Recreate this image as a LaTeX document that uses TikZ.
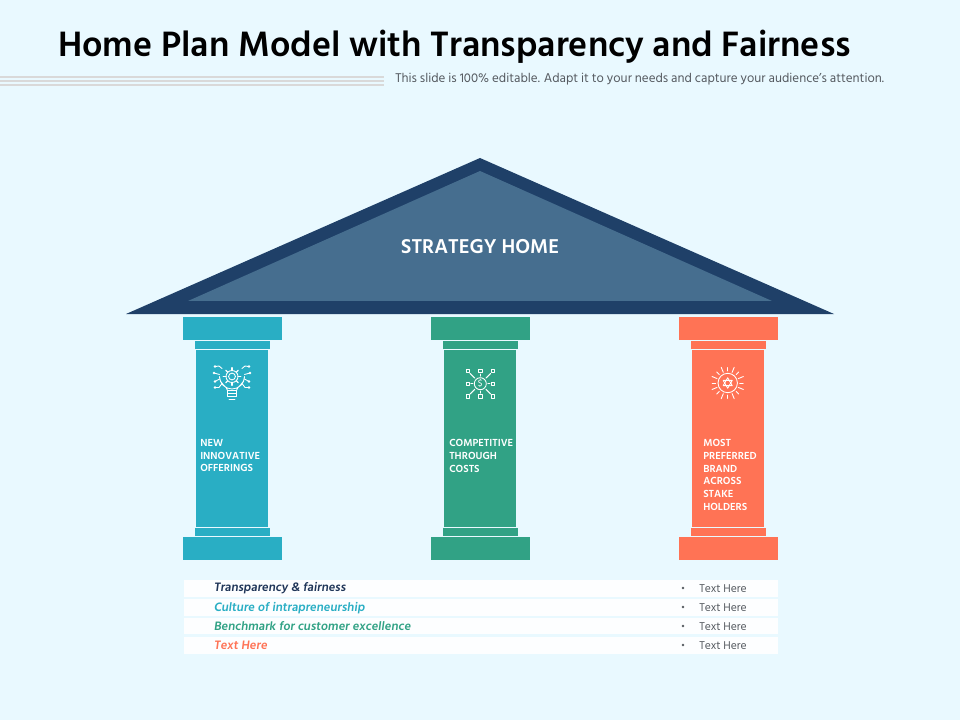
\documentclass[tikz,border=0pt]{standalone}
\usepackage{fontspec}
\setmainfont{Hind Siliguri}
\newfontfamily\slantfont[FakeSlant=0.13]{Hind Siliguri}
\definecolor{bgc}{HTML}{E9F9FF}
\definecolor{roofout}{HTML}{1F4068}
\definecolor{roofin}{HTML}{466E8F}
\definecolor{tealc}{HTML}{29AEC4}
\definecolor{greenc}{HTML}{31A285}
\definecolor{coralc}{HTML}{FF7355}
\definecolor{navyt}{HTML}{1F3558}
\definecolor{greyt}{HTML}{555A60}
\definecolor{stripe}{HTML}{D9D9D9}
\newcommand{\pxs}[2]{\fontsize{#1}{#2}\selectfont}
\tikzset{
  x=0.75pt,y=-0.75pt,
  block/.style={fill=#1,draw=none},
  iconline/.style={draw=white,line width=0.65pt,line cap=round,line join=round},
  pillartext/.style={anchor=north west,inner sep=0,align=left,text=white,font=\pxs{7.9}{9.6}\bfseries},
  rowlabel/.style={anchor=west,inner sep=0,font=\pxs{9.4}{11}\slantfont\bfseries},
  rowtext/.style={anchor=west,inner sep=0,text=greyt,font=\pxs{8.7}{10}},
  rowband/.style={fill=white,draw=none,fill opacity=0.92},
}
\newcommand{\pillar}[2]{%
  \begin{scope}[xshift=#1*0.75pt]
    \fill[block=#2] (183,317) rectangle (282,340);
    \fill[block=#2] (195,341) rectangle (270,349);
    \fill[block=#2] (196,350) rectangle (268,527);
    \fill[block=#2] (195,528) rectangle (270,536);
    \fill[block=#2] (183,537) rectangle (282,560);
  \end{scope}}
\begin{document}
\begin{tikzpicture}
\useasboundingbox (0,0) rectangle (960,720);
\fill[bgc] (0,0) rectangle (960,720);
% title
\node[anchor=west,inner sep=0,font=\pxs{27.13}{30}\bfseries,text=black] (title) at (58,47) {Home Plan Model with Transparency and Fairness};
\fill[stripe] (0,76) rectangle (384,78);
\fill[stripe] (0,80) rectangle (384,82);
\fill[stripe] (0,84) rectangle (384,86);
\node[anchor=west,inner sep=0,font=\pxs{9.76}{11},text=greyt] (sub) at (395,79) {This slide is 100\% editable. Adapt it to your needs and capture your audience's attention.};
% roof
\fill[roofout] (480,158) -- (834,314) -- (126,314) -- cycle;
\fill[roofin] (480,171) -- (772,301) -- (188,301) -- cycle;
\node[inner sep=0,font=\pxs{15.4}{17}\bfseries,text=white] (roof) at (480,246.5) {STRATEGY HOME};
% pillars
\pillar{0}{tealc}
\pillar{248}{greenc}
\pillar{496}{coralc}
\node[pillartext] (p1) at (200,439) {NEW\\INNOVATIVE\\OFFERINGS};
\node[pillartext] (p2) at (449,439) {COMPETITIVE\\THROUGH\\COSTS};
\node[pillartext] (p3) at (703,439) {MOST\\PREFERRED\\BRAND\\ACROSS\\STAKE\\HOLDERS};
% bulb icon
\begin{scope}[shift={(232,376.5)},iconline]
  \draw (-4.5,14) .. controls (-4.5,10) and (-12.5,8) .. (-12.5,0) arc[start angle=180,end angle=0,radius=12.5] .. controls (12.5,8) and (4.5,10) .. (4.5,14) -- cycle;
  \draw (-4.5,17) -- (4.5,17) (-4.5,20) -- (4.5,20) (-3,23) -- (3,23);
  \draw (-4.5,14) -- (-4.5,20) (4.5,14) -- (4.5,20);
  \draw (0,0) circle[radius=3.4];
  \draw (0,0) circle[radius=6];
  \foreach \a in {0,45,...,315} {\draw[line width=1pt] (\a:6) -- (\a:8.8);}
  \foreach \s in {-1,1} {
    \draw (\s*10,-8) -- (\s*13,-10.5) -- (\s*16.5,-10);
    \draw (\s*12.5,-2) -- (\s*18,-3.5);
    \draw (\s*12.5,2.5) -- (\s*17,5);
    \draw (\s*10,7) -- (\s*13,11) -- (\s*17,11);
    \fill[white] (\s*17,-10) circle[radius=1.4] (\s*18,-3.5) circle[radius=1.4] (\s*17,5) circle[radius=1.4] (\s*17,11) circle[radius=1.4];
  }
\end{scope}
% dollar icon
\begin{scope}[shift={(480.3,383.7)},iconline]
  \draw (0,0) circle[radius=6];
  \node[inner sep=0,text=white,font=\pxs{7}{8}] (dollar) at (0,0) {\$};
  \foreach \dx/\dy in {-12.6/-12.6,0/-12.6,12.6/-12.6,-12.6/0,12.6/0,-12.6/12.6,0/12.6,12.6/12.6} {
    \draw (\dx-1.7,\dy-1.7) rectangle (\dx+1.7,\dy+1.7);
  }
  \foreach \a in {0,90,180,270} {\draw[line width=0.8pt] (\a:7.5) -- (\a:9.5);}
  \foreach \a in {45,135,225,315} {\draw[line width=0.8pt] (\a:8) -- (\a:14.5);}
\end{scope}
% star icon
\begin{scope}[shift={(727.7,383)},iconline]
  \draw (0,0) circle[radius=9.7];
  \draw (90:5.2) -- (210:5.2) -- (330:5.2) -- cycle;
  \draw (270:5.2) -- (30:5.2) -- (150:5.2) -- cycle;
  \foreach \a in {0,45,...,315} {\draw (\a:12) -- (\a:15.5);}
  \foreach \a in {22.5,67.5,...,337.5} {\draw (\a:11.5) -- (\a:17);}
\end{scope}
% rows
\fill[rowband] (184,580) rectangle (778,597);
\fill[rowband] (184,599) rectangle (778,616);
\fill[rowband] (184,618) rectangle (778,634);
\fill[rowband] (184,637) rectangle (778,654);
\node[rowlabel,text=navyt] (r1) at (213.5,587.8) {Transparency \& fairness};
\node[rowlabel,text=tealc] (r2) at (213.5,608) {Culture of intrapreneurship};
\node[rowlabel,text=greenc] (r3) at (213.5,626.5) {Benchmark for customer excellence};
\node[rowlabel,text=coralc] (r4) at (213.5,645.5) {Text Here};
\foreach \yy/\nm in {588/a,607/b,626/c,645/d} {
  \fill[greyt] (683,\yy) circle[radius=1.4];
  \node[rowtext] (t\nm) at (699,\yy+1) {Text Here};
}
\end{tikzpicture}
\end{document}
